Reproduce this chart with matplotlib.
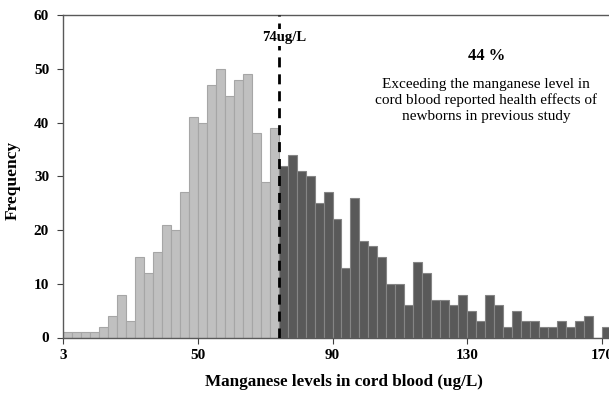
import matplotlib
matplotlib.use("Agg")
import matplotlib.pyplot as plt
import numpy as np

# Frequencies per bin (categorical bins)
below = [1, 1, 1, 1, 2, 4, 8, 3, 15, 12, 16, 21, 20, 27, 41, 40, 47, 50, 45, 48, 49, 38, 29, 39]
above = [32, 34, 31, 30, 25, 27, 22, 13, 26, 18, 17, 15, 10, 10, 6, 14, 12, 7, 7, 6, 8, 5, 3, 8,
         6, 2, 5, 3, 3, 2, 2, 3, 2, 3, 4, 0, 2]
tick_labels = ["3", "50", "90", "130", "170"]
tick_bins = [0, 15, 30, 45, 60]
threshold_label = "74ug/L"
pct_text = "44 %"
note_text = "Exceeding the manganese level in\ncord blood reported health effects of\nnewborns in previous study"

plt.rcParams['font.family'] = ['Liberation Serif', 'DejaVu Serif']

fig = plt.figure(figsize=(6.09, 3.95), dpi=100)
W, H = 609, 395
left, right, top, bottom = 63, 611, 15, 337.5
ax = fig.add_axes([left / W, 1 - bottom / H, (right - left) / W, (bottom - top) / H])

n_below = len(below)
xb = np.arange(n_below)
xa = np.arange(n_below, n_below + len(above))
ax.bar(xb, below, width=1.0, align='edge', color='#c0c0c0', edgecolor='#a6a6a6', linewidth=0.8)
ax.bar(xa, above, width=1.0, align='edge', color='#595959', edgecolor='#858585', linewidth=0.8)

ax.set_xlim(0, 61)
ax.set_ylim(0, 60)
ax.set_yticks(range(0, 61, 10))
ax.set_xticks(tick_bins)
ax.set_xticklabels(tick_labels)
for lab in ax.get_xticklabels() + ax.get_yticklabels():
    lab.set_fontweight('bold')
    lab.set_fontsize(11)
ax.tick_params(axis='both', direction='out', length=4, width=0.8, color='#404040')
ax.tick_params(axis='x', pad=4.5)
ax.tick_params(axis='y', pad=6)

for s in ['top', 'left', 'bottom']:
    ax.spines[s].set_color('#595959')
    ax.spines[s].set_linewidth(1.0)
ax.spines['right'].set_visible(False)

ax.axvline(n_below, color='black', linestyle=(0, (3.6, 2.5)), linewidth=2.0, zorder=3)
ax.text(n_below + 0.65, 55.85, threshold_label, ha='center', va='center', fontsize=10.5,
        fontweight='bold', zorder=4, bbox=dict(facecolor='white', edgecolor='none', pad=1.5))

ax.text(47.1, 52.4, pct_text, ha='center', va='center', fontsize=12, fontweight='bold')
ax.text(47.1, 44.1, note_text, ha='center', va='center', fontsize=11, linespacing=1.28)

fig.text(344 / W, 1 - 381.7 / H, "Manganese levels in cord blood (ug/L)", ha='center', va='center',
         fontsize=12.3, fontweight='bold')
fig.text(13 / W, 1 - 180 / H, "Frequency", ha='center', va='center', rotation=90,
         fontsize=12.5, fontweight='bold')

fig.savefig("out.png", dpi=100)
